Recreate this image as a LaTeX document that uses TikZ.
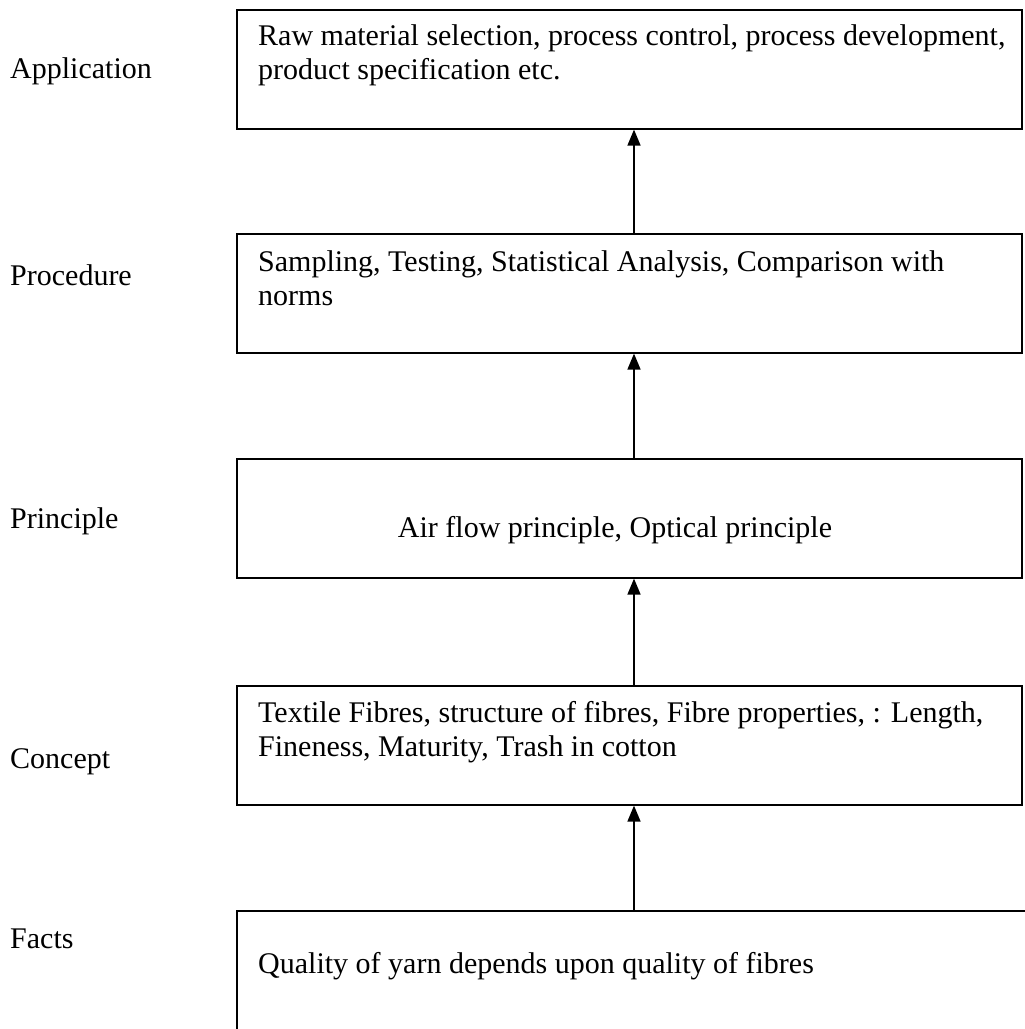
\documentclass[tikz,border=0pt]{standalone}
\usepackage{fontspec}
\setmainfont{Liberation Serif}
\usetikzlibrary{arrows.meta}
\begin{document}
\begin{tikzpicture}[x=1pt,y=-1pt,
  box/.style={draw, line width=1.6pt, minimum width=785pt, minimum height=119pt, anchor=north west, inner sep=0pt},
  txt/.style={anchor=north west, align=left, inner sep=0pt, font=\fontsize{30}{34}\selectfont},
  one/.style={anchor=base west, inner sep=0pt, font=\fontsize{30}{34}\selectfont},
  lbl/.style={anchor=base west, inner sep=0pt, font=\fontsize{30}{34}\selectfont},
  arr/.style={-{Triangle[length=16pt,width=13pt]}, line width=1.6pt}]
\useasboundingbox (0,0) rectangle (1025,1029);
\clip (0,0) rectangle (1025,1029);
\coordinate (ax) at (634,0);
% boxes
\node[box] (b1) at (236,9) {};
\node[box] (b2) at (236,233) {};
\node[box] (b3) at (236,458) {};
\node[box] (b4) at (236,685) {};
\node[box, minimum width=900pt, minimum height=200pt] (b5) at (236,910) {};
% texts
\node[txt] (t1) at (258,24) {Raw material selection, process control, process development,\\product specification etc.};
\node[txt] (t2) at (258,250) {Sampling, Testing, Statistical Analysis, Comparison with\\norms};
\node[anchor=base, inner sep=0pt, font=\fontsize{30}{34}\selectfont] (t3) at (615,537) {Air flow principle, Optical principle};
\node[txt] (t4) at (258,701) {Textile Fibres, structure of fibres, Fibre properties, : Length,\\Fineness, Maturity, Trash in cotton};
\node[one] (t5) at (258,973) {Quality of yarn depends upon quality of fibres};
% labels
\node[lbl] (l1) at (10,78) {Application};
\node[lbl] (l2) at (10,285) {Procedure};
\node[lbl] (l3) at (10,528) {Principle};
\node[lbl] (l4) at (10,768) {Concept};
\node[lbl] (l5) at (10,948) {Facts};
% arrows
\draw[arr] (b2.north -| ax) -- (b1.south -| ax);
\draw[arr] (b3.north -| ax) -- (b2.south -| ax);
\draw[arr] (b4.north -| ax) -- (b3.south -| ax);
\draw[arr] (b5.north -| ax) -- (b4.south -| ax);
\end{tikzpicture}
\end{document}
